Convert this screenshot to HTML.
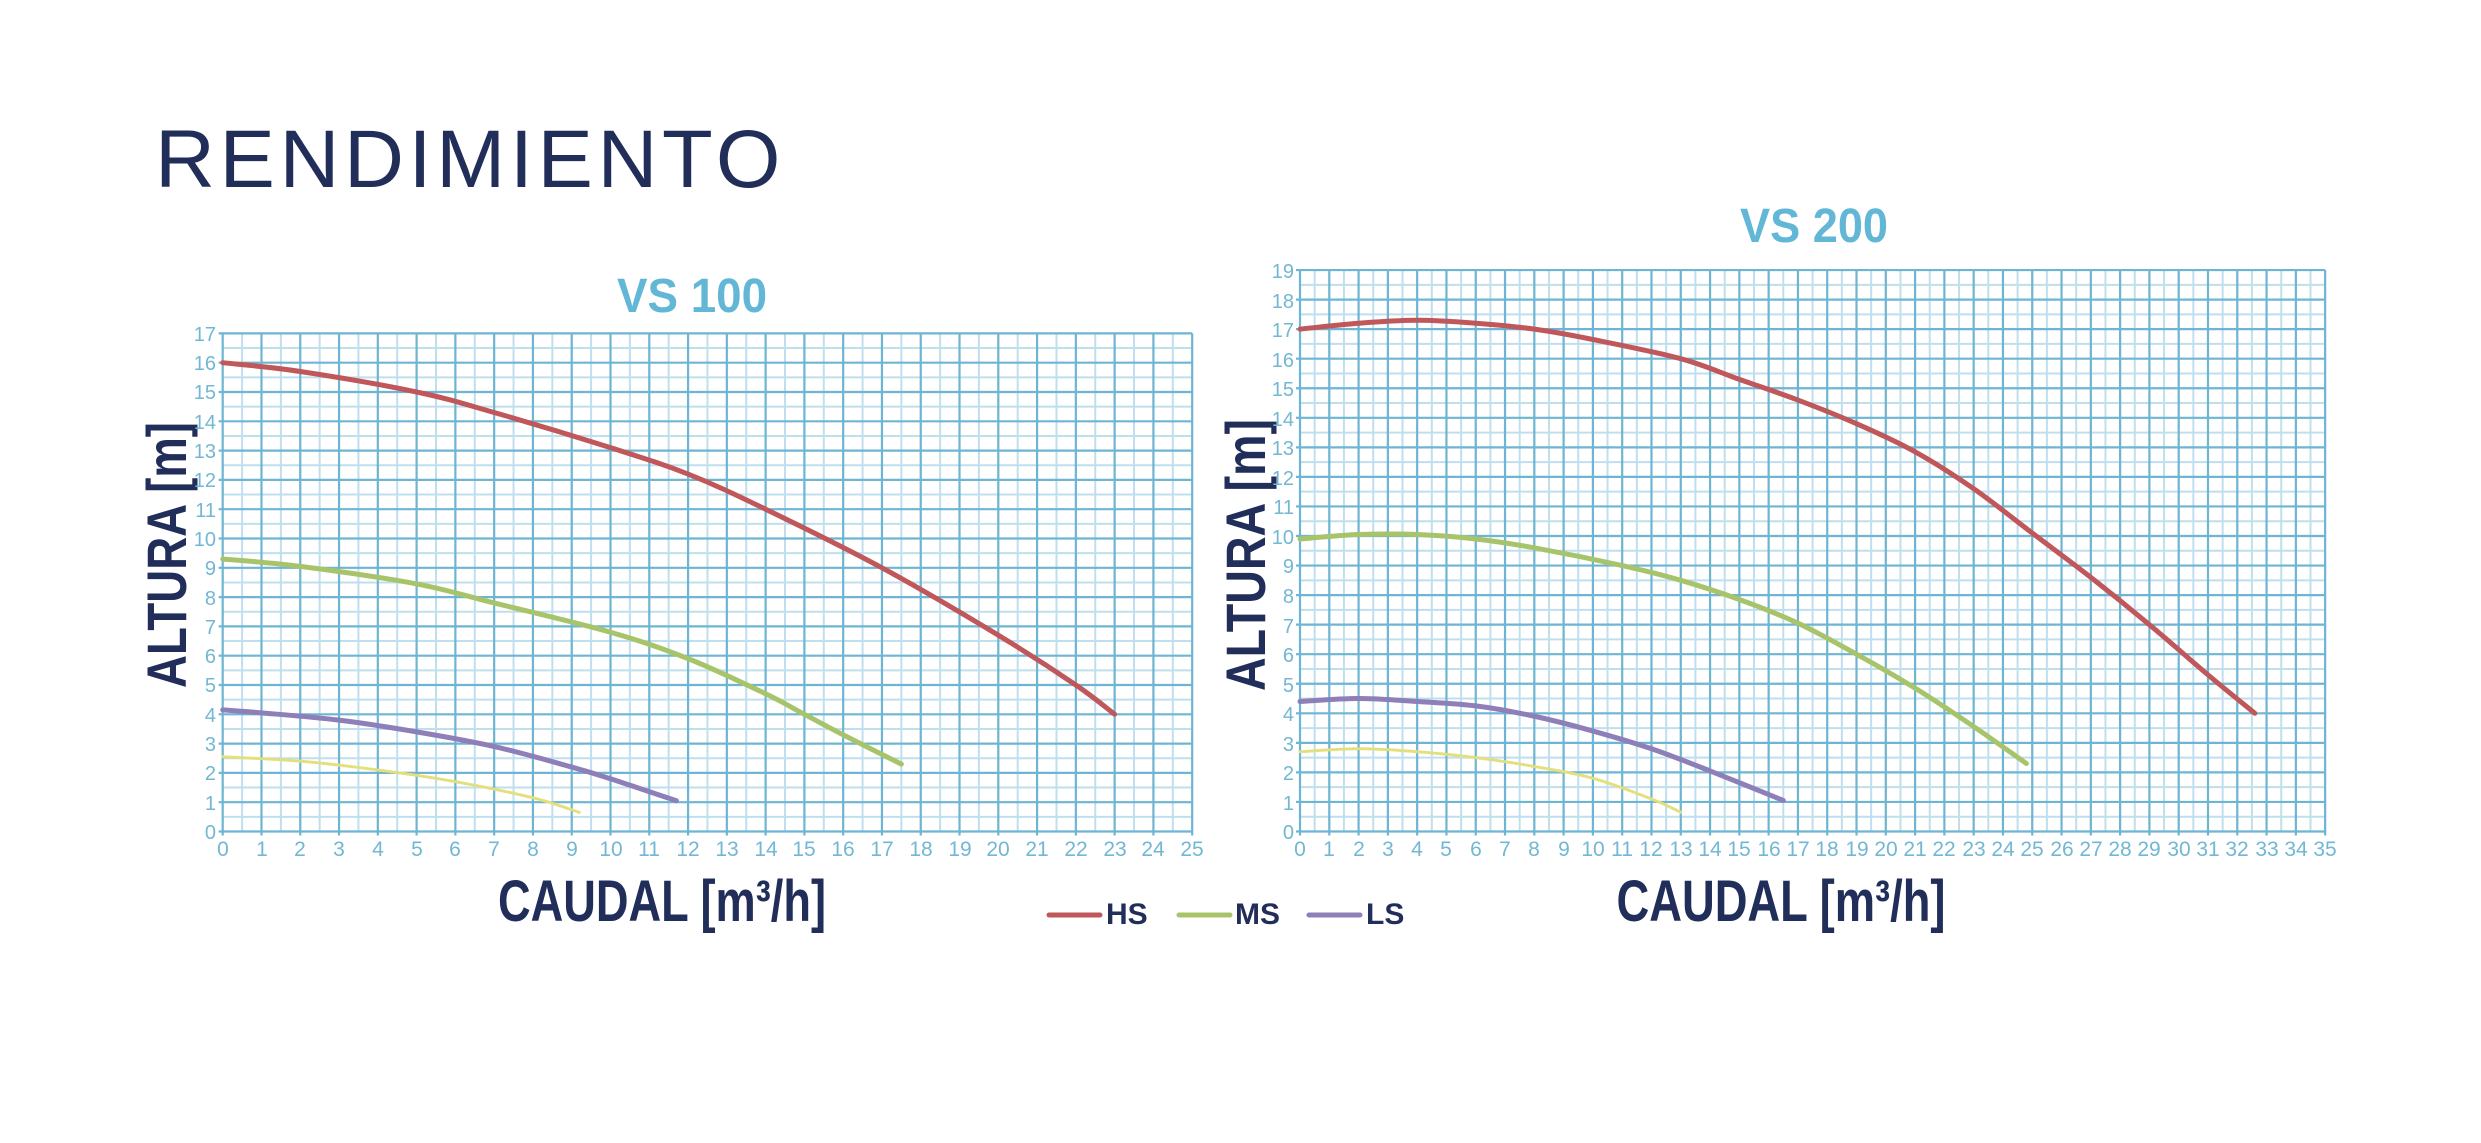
<!DOCTYPE html>
<html><head><meta charset="utf-8">
<style>
html,body{margin:0;padding:0;background:#fff;}
svg{display:block;}
.t{font-family:"Liberation Sans",sans-serif;}
</style></head>
<body>
<svg id="s" width="2481" height="1143" viewBox="0 0 2481 1143" xmlns="http://www.w3.org/2000/svg">
<rect width="2481" height="1143" fill="#fff"/>
<text class="t" x="155" y="187" font-size="82" fill="#222e5a" letter-spacing="4.5" textLength="630" lengthAdjust="spacingAndGlyphs">RENDIMIENTO</text>
<g id="grid"></g>
<g id="curves"></g>
<text class="t" x="692" y="312" font-size="48" font-weight="bold" fill="#62b6d6" text-anchor="middle" textLength="150" lengthAdjust="spacingAndGlyphs">VS 100</text>
<text class="t" x="1814" y="242" font-size="48" font-weight="bold" fill="#62b6d6" text-anchor="middle" textLength="148" lengthAdjust="spacingAndGlyphs">VS 200</text>
<text class="t" x="662" y="921" font-size="58" font-weight="bold" fill="#222e5a" text-anchor="middle" textLength="328" lengthAdjust="spacingAndGlyphs">CAUDAL [m³/h]</text>
<text class="t" x="1781" y="921" font-size="58" font-weight="bold" fill="#222e5a" text-anchor="middle" textLength="329" lengthAdjust="spacingAndGlyphs">CAUDAL [m³/h]</text>
<text class="t" transform="translate(186,555) rotate(-90)" font-size="56" font-weight="bold" fill="#222e5a" text-anchor="middle" textLength="266" lengthAdjust="spacingAndGlyphs">ALTURA [m]</text>
<text class="t" transform="translate(1265,555) rotate(-90)" font-size="56" font-weight="bold" fill="#222e5a" text-anchor="middle" textLength="272" lengthAdjust="spacingAndGlyphs">ALTURA [m]</text>
<line x1="1049" y1="915" x2="1100" y2="915" stroke="#c0575a" stroke-width="5" stroke-linecap="round"/>
<text class="t" x="1106" y="924" font-size="30" font-weight="bold" fill="#222e5a">HS</text>
<line x1="1179" y1="915" x2="1230" y2="915" stroke="#a8c46a" stroke-width="5" stroke-linecap="round"/>
<text class="t" x="1235" y="924" font-size="30" font-weight="bold" fill="#222e5a">MS</text>
<line x1="1309" y1="915" x2="1360" y2="915" stroke="#8e7fb8" stroke-width="5" stroke-linecap="round"/>
<text class="t" x="1366" y="924" font-size="30" font-weight="bold" fill="#222e5a">LS</text>
<g class="t" font-size="20" fill="#72b7d3" text-anchor="end">
<text x="216" y="839">0</text><text x="216" y="810">1</text><text x="216" y="780">2</text><text x="216" y="751">3</text><text x="216" y="722">4</text><text x="216" y="692">5</text><text x="216" y="663">6</text><text x="216" y="634">7</text><text x="216" y="605">8</text><text x="216" y="575">9</text><text x="216" y="546">10</text><text x="216" y="517">11</text><text x="216" y="487">12</text><text x="216" y="458">13</text><text x="216" y="429">14</text><text x="216" y="399">15</text><text x="216" y="370">16</text><text x="216" y="341">17</text>
</g>
<g class="t" font-size="20" fill="#72b7d3" text-anchor="end">
<text x="1294" y="839">0</text><text x="1294" y="810">1</text><text x="1294" y="780">2</text><text x="1294" y="751">3</text><text x="1294" y="721">4</text><text x="1294" y="692">5</text><text x="1294" y="662">6</text><text x="1294" y="633">7</text><text x="1294" y="603">8</text><text x="1294" y="573">9</text><text x="1294" y="544">10</text><text x="1294" y="514">11</text><text x="1294" y="485">12</text><text x="1294" y="455">13</text><text x="1294" y="426">14</text><text x="1294" y="396">15</text><text x="1294" y="367">16</text><text x="1294" y="337">17</text><text x="1294" y="308">18</text><text x="1294" y="278">19</text>
</g>
<g class="t" font-size="21" fill="#72b7d3" text-anchor="middle">
<text x="223" y="856">0</text><text x="262" y="856">1</text><text x="300" y="856">2</text><text x="339" y="856">3</text><text x="378" y="856">4</text><text x="417" y="856">5</text><text x="455" y="856">6</text><text x="494" y="856">7</text><text x="533" y="856">8</text><text x="572" y="856">9</text><text x="611" y="856">10</text><text x="649" y="856">11</text><text x="688" y="856">12</text><text x="727" y="856">13</text><text x="766" y="856">14</text><text x="804" y="856">15</text><text x="843" y="856">16</text><text x="882" y="856">17</text><text x="921" y="856">18</text><text x="960" y="856">19</text><text x="998" y="856">20</text><text x="1037" y="856">21</text><text x="1076" y="856">22</text><text x="1115" y="856">23</text><text x="1153" y="856">24</text><text x="1192" y="856">25</text>
</g>
<g class="t" font-size="21" fill="#72b7d3" text-anchor="middle">
<text x="1300" y="856">0</text><text x="1329" y="856">1</text><text x="1359" y="856">2</text><text x="1388" y="856">3</text><text x="1417" y="856">4</text><text x="1446" y="856">5</text><text x="1476" y="856">6</text><text x="1505" y="856">7</text><text x="1534" y="856">8</text><text x="1564" y="856">9</text><text x="1593" y="856">10</text><text x="1622" y="856">11</text><text x="1651" y="856">12</text><text x="1681" y="856">13</text><text x="1710" y="856">14</text><text x="1739" y="856">15</text><text x="1769" y="856">16</text><text x="1798" y="856">17</text><text x="1827" y="856">18</text><text x="1857" y="856">19</text><text x="1886" y="856">20</text><text x="1915" y="856">21</text><text x="1944" y="856">22</text><text x="1974" y="856">23</text><text x="2003" y="856">24</text><text x="2032" y="856">25</text><text x="2062" y="856">26</text><text x="2091" y="856">27</text><text x="2120" y="856">28</text><text x="2149" y="856">29</text><text x="2179" y="856">30</text><text x="2208" y="856">31</text><text x="2237" y="856">32</text><text x="2267" y="856">33</text><text x="2296" y="856">34</text><text x="2325" y="856">35</text>
</g>
</svg>
<script>
(function(){
var NS="http://www.w3.org/2000/svg";
function el(p,n,a){var e=document.createElementNS(NS,n);for(var k in a)e.setAttribute(k,a[k]);p.appendChild(e);return e;}
var grid=document.getElementById('grid'),cur=document.getElementById('curves');
var charts=[
 {x0:222.7,ux:38.78,nx:25,y0:831.5,uy:29.3,ny:17,
  curves:[
   ['#c0575a',[[0,16],[2,15.7],[5,15],[7,14.3],[10,13.1],[12,12.2],[14,11],[17,9],[20,6.7],[22,5],[23,4]]],
   ['#a8c46a',[[0,9.3],[2,9.05],[5,8.45],[7,7.8],[10,6.8],[12,5.9],[14,4.7],[15,4],[16,3.3],[17.5,2.3]]],
   ['#8e7fb8',[[0,4.15],[1,4.05],[3,3.8],[5,3.4],[7,2.9],[9,2.2],[10,1.8],[11.7,1.05]]],
   ['#e3df7c',[[0,2.55],[2,2.4],[4,2.1],[6,1.7],[8,1.15],[9.2,0.65]],1]
  ]},
 {x0:1300,ux:29.29,nx:35,y0:831.5,uy:29.55,ny:19,
  curves:[
   ['#c0575a',[[0,17],[2,17.2],[4,17.3],[6,17.2],[8,17],[10,16.65],[13,16],[15,15.3],[17,14.6],[19,13.8],[21,12.85],[23,11.6],[25,10.1],[27,8.6],[29,7.0],[31,5.3],[32.6,4]]],
   ['#a8c46a',[[0,9.9],[2,10.05],[4,10.05],[6,9.9],[8,9.6],[11,9],[13,8.5],[15,7.85],[17,7.05],[19,6],[21,4.85],[23,3.55],[24.8,2.3]]],
   ['#8e7fb8',[[0,4.4],[2,4.5],[4,4.4],[6,4.25],[8,3.9],[10,3.4],[12,2.8],[14,2.05],[16.5,1.05]]],
   ['#e3df7c',[[0,2.7],[2,2.8],[4,2.7],[6,2.5],[8,2.2],[10,1.8],[12,1.1],[13,0.65]],1]
  ]}
];
charts.forEach(function(c){
 var X=function(v){return c.x0+v*c.ux},Y=function(v){return c.y0-v*c.uy};
 var L=X(0),R=X(c.nx),T=Y(c.ny),B=Y(0);
 for(var i=0;i<c.nx*2;i++){if(i%2)el(grid,'line',{x1:X(i/2),x2:X(i/2),y1:T,y2:B,stroke:'#bfdfee','stroke-width':2});}
 for(var j=0;j<c.ny*2;j++){if(j%2)el(grid,'line',{y1:Y(j/2),y2:Y(j/2),x1:L,x2:R,stroke:'#bfdfee','stroke-width':2});}
 for(var i=0;i<=c.nx;i++){el(grid,'line',{x1:X(i),x2:X(i),y1:T,y2:B+4,stroke:'#6db5d2','stroke-width':2.2});}
 for(var j=0;j<=c.ny;j++){el(grid,'line',{y1:Y(j),y2:Y(j),x1:L-4,x2:R,stroke:'#6db5d2','stroke-width':2.2});}
 c.curves.forEach(function(cv){
  var p=cv[1].map(function(q){return [X(q[0]),Y(q[1])]});
  var d='M'+p[0][0]+','+p[0][1];
  for(var k=0;k<p.length-1;k++){
   var p0=p[k-1]||p[k],p1=p[k],p2=p[k+1],p3=p[k+2]||p2;
   var c1=[p1[0]+(p2[0]-p0[0])/6,p1[1]+(p2[1]-p0[1])/6],c2=[p2[0]-(p3[0]-p1[0])/6,p2[1]-(p3[1]-p1[1])/6];
   d+=' C'+c1+' '+c2+' '+p2;
  }
  var a={d:d,fill:'none',stroke:cv[0],'stroke-width':cv[2]?3:5,'stroke-linecap':'round'};
  if(cv[2])a['stroke-dasharray']='2,2';
  el(cur,'path',a);
 });
});
})();
</script>
</body></html>
